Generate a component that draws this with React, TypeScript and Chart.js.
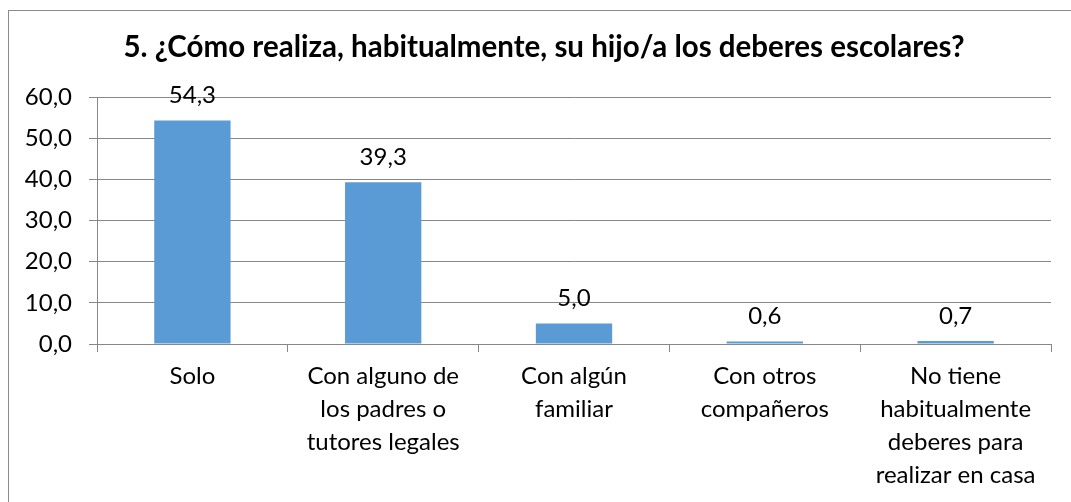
import React, { useEffect, useRef } from "react";
import { Chart, registerables } from "chart.js";

Chart.register(...registerables);

const TITLE = "5. ¿Cómo realiza, habitualmente, su hijo/a los deberes escolares?";
const categories: string[][] = [
  ["Solo"],
  ["Con alguno de", "los padres o", "tutores legales"],
  ["Con algún", "familiar"],
  ["Con otros", "compañeros"],
  ["No tiene", "habitualmente", "deberes para", "realizar en casa"],
];
const values: number[] = [54.3, 39.3, 5.0, 0.6, 0.7];
const yTicks: number[] = [0, 10, 20, 30, 40, 50, 60];

const FONT = "Lato, 'Open Sans', sans-serif";
const fmt = (v: number) => v.toFixed(1).replace(".", ",");

const titlePlugin = {
  id: "customTitle",
  afterDraw(chart: any) {
    const ctx = chart.ctx;
    ctx.save();
    ctx.font = `bold 29.5px ${FONT}`;
    ctx.fillStyle = "#000";
    ctx.textAlign = "center";
    ctx.textBaseline = "alphabetic";
    ctx.fillText(TITLE, 544, 57);
    ctx.restore();
  },
};

const labelPlugin = {
  id: "barLabels",
  afterDatasetsDraw(chart: any) {
    const ctx = chart.ctx;
    const meta = chart.getDatasetMeta(0);
    ctx.save();
    ctx.font = `24px ${FONT}`;
    ctx.fillStyle = "#000";
    ctx.textAlign = "center";
    ctx.textBaseline = "middle";
    meta.data.forEach((bar: any, i: number) => {
      ctx.fillText(fmt(values[i]), bar.x, bar.y - 25);
    });
    ctx.restore();
  },
};

export default function App() {
  const ref = useRef<HTMLCanvasElement>(null);
  useEffect(() => {
    if (!ref.current) return;
    const chart = new Chart(ref.current, {
      type: "bar",
      data: {
        labels: categories,
        datasets: [
          {
            data: values,
            backgroundColor: "#5B9BD5",
            barPercentage: 0.4,
            categoryPercentage: 1,
          },
        ],
      },
      options: {
        responsive: false,
        animation: false,
        layout: { padding: { top: 97, right: 20, left: 0, bottom: 0 } },
        plugins: {
          legend: { display: false },
          tooltip: { enabled: false },
          title: { display: false },
        },
        scales: {
          x: {
            afterFit: (s: any) => {
              s.height = 158;
            },
            grid: {
              display: true,
              drawOnChartArea: false,
              drawTicks: true,
              tickLength: 8,
              color: "#878787",
              offset: true,
            },
            border: { display: true, color: "#878787" },
            ticks: {
              color: "#000",
              font: { family: FONT, size: 24, lineHeight: "33px" },
              padding: 8,
              maxRotation: 0,
              autoSkip: false,
            },
          },
          y: {
            min: 0,
            max: 60,
            afterFit: (s: any) => {
              s.width = 97;
            },
            afterBuildTicks: (s: any) => {
              s.ticks = yTicks.map((v) => ({ value: v }));
            },
            grid: {
              color: "#878787",
              drawTicks: true,
              tickLength: 8,
            },
            border: { display: true, color: "#878787" },
            ticks: {
              color: "#000",
              font: { family: FONT, size: 24 },
              padding: 17,
              callback: (v: any) => fmt(Number(v)),
            },
          },
        },
      },
      plugins: [titlePlugin, labelPlugin],
    });
    return () => chart.destroy();
  }, []);

  return (
    <div
      style={{
        position: "fixed",
        left: 0,
        top: 0,
        width: 1071,
        height: 502,
        overflow: "hidden",
        background: "#fff",
      }}
    >
      <div
        style={{
          position: "absolute",
          left: 8,
          top: 10,
          width: 1100,
          height: 600,
          border: "1px solid #8c8c8c",
        }}
      />
      <canvas
        ref={ref}
        width={1071}
        height={502}
        style={{ position: "absolute", left: 0, top: 0, width: 1071, height: 502 }}
      />
    </div>
  );
}
